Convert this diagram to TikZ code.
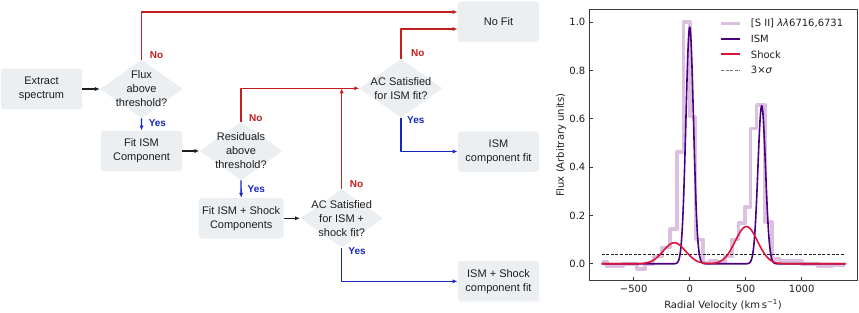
\documentclass[tikz,border=0pt]{standalone}
\usepackage{fontspec}
\setmainfont{Liberation Sans}
\newfontfamily\plotfont{DejaVu Sans}
\usetikzlibrary{shapes.geometric,arrows.meta,positioning}
\newcommand{\Px}{1pt}
\newcommand{\Wire}{1.3pt}
\newcommand{\Curve}{1.6pt}
\newcommand{\boxfont}{\fontsize{11}{14}\selectfont}
\newcommand{\flagfont}{\fontsize{10}{12}\selectfont\bfseries}
\newcommand{\plotsize}{\plotfont\fontsize{10}{12}\selectfont}
\definecolor{panel}{HTML}{ECEFF2}
\definecolor{nored}{HTML}{C41E1E}
\definecolor{yesblue}{HTML}{1428C0}
\definecolor{ink}{HTML}{1E1E1E}
\definecolor{axisgray}{HTML}{3A3A3A}
\definecolor{sii}{HTML}{DCC0E0}
\definecolor{ism}{HTML}{4B0082}
\definecolor{shock}{HTML}{DC143C}

\begin{document}
\begin{tikzpicture}[x=\Px, y=-\Px, line join=round,
    fcbox/.style={rectangle, rounded corners=3pt, fill=panel, text=ink,
      minimum width=81.5pt, minimum height=40.5pt, align=center, font=\boxfont},
    fcchoice/.style={diamond, fill=panel, inner sep=0pt,
      minimum width=83pt, minimum height=58.5pt},
    fctext/.style={align=center, text=ink, font=\boxfont},
    go/.style={ink, line width=1.3pt, -{Latex[length=5pt,width=4.2pt]}},
    nowire/.style={nored, line width=\Wire, -{Latex[length=5pt,width=4.2pt]}},
    yeswire/.style={yesblue, line width=\Wire, -{Latex[length=5pt,width=4.2pt]}},
    nolab/.style={text=nored, inner sep=1pt, font=\flagfont},
    yeslab/.style={text=yesblue, inner sep=1pt, font=\flagfont},
    plotlab/.style={text=ink, inner sep=2pt, font=\plotsize},
    ticklab/.style={text=ink, inner sep=3.5pt, font=\plotsize}]

  \useasboundingbox (0,0) rectangle (859,313);

  % ---- the steps and the questions ----------------------------------------
  \node[fcbox] (extract) at (41.5,89) {Extract\\spectrum};
  \node[fcchoice] (flux) at (141.6,89) {};
  \node[fctext] at (flux) {Flux\\above\\threshold?};
  \node[fcbox] (ismcomp) at (141.5,151) {Fit ISM\\Component};
  \node[fcchoice] (resid) at (241,151) {};
  \node[fctext] at (resid) {Residuals\\above\\threshold?};
  \node[fcbox] (shockcomp) at (241.2,218.3) {Fit ISM + Shock\\Components};
  \node[fcchoice] (acshock) at (341.7,218.3) {};
  \node[fctext] at (acshock) {AC Satisfied\\for ISM +\\shock fit?};
  \node[fcchoice] (acism) at (401,88.3) {};
  \node[fctext] at (acism) {AC Satisfied\\for ISM fit?};

  % The three outcomes, stacked on the right.
  \node[fcbox] (nofit) at (498.5,21.7) {No Fit};
  \node[fcbox] (ismfit) at (498.5,151.5) {ISM\\component fit};
  \node[fcbox] (shockfit) at (498.5,281.3) {ISM + Shock\\component fit};

  % ---- the plain flow -----------------------------------------------------
  \draw[go] (extract) -- (flux);
  \draw[go] (ismcomp) -- (resid);
  \draw[go] (shockcomp) -- (acshock);

  % ---- every No goes up, every Yes goes down ------------------------------
  \draw[nowire] (flux.north) |- ([yshift=9.7pt]nofit.west);
  \draw[nowire] (resid.north) |- (acism.west);
  \draw[nowire] (acshock.north) -- (acshock.north |- acism.west);
  \draw[nowire] (acism.north) |- ([yshift=-7.3pt]nofit.west);
  \draw[yeswire] (flux.south) -- (ismcomp.north);
  \draw[yeswire] (resid.south) -- (shockcomp.north);
  \draw[yeswire] (acism.south) |- (ismfit.west);
  \draw[yeswire] (acshock.south) |- (shockfit.west);

  \node[nolab, above right=0pt and 7pt of flux.north] (fluxno) {No};
  \node[yeslab, below right=0pt and 6pt of flux.south] (fluxyes) {Yes};
  \node[nolab, above right=-1pt and 7pt of resid.north] (residno) {No};
  \node[yeslab, below right=4pt and 5.5pt of resid.south] (residyes) {Yes};
  \node[nolab, above right=0pt and 7pt of acshock.north] (acshockno) {No};
  \node[yeslab, below right=-1pt and 5.5pt of acshock.south] (acshockyes) {Yes};
  \node[nolab, above right=1pt and 9pt of acism.north] (acismno) {No};
  \node[yeslab, below right=-2pt and 5pt of acism.south] (acismyes) {Yes};

  % ---- the spectrum panel, in hundreds of km/s and in flux ----------------
  \begin{scope}[shift={(689.7,263.8)}, x=11.2pt, y=241.5pt]
    \draw[axisgray, line width=1pt] (-8.99,-0.0712) rectangle (14.94,1.053);
    \foreach \u/\lab in {-5/−500, 0/0, 5/500, 10/1000} {
      \draw[axisgray, line width=0.8pt] (\u,-0.0712) -- ++(0,0.0145);
      \node[ticklab, anchor=north] at (\u,-0.0712) {\lab};
    }
    \foreach \f in {0.0,0.2,0.4,0.6,0.8,1.0} {
      \draw[axisgray, line width=0.8pt] (-8.99,\f) -- ++(0.3125,0);
      \node[ticklab, anchor=east] at (-8.99,\f) {\f};
    }

    % The binned doublet, as steps.
    \draw[sii, line width=3.6pt] (-7.86,0.01)
      \foreach \u/\f in {-7.41/-0.01, -5.93/0.0, -4.73/-0.022, -3.99/0.0,
        -3.25/0.03, -2.5/0.068, -1.76/0.143, -1.16/0.464, -0.57/1.0,
        0.03/0.61, 0.5/0.10, 1.21/0.005, 1.81/0.012, 2.44/0.008, 3.15/0.03,
        3.75/0.10, 4.34/0.168, 4.94/0.236, 5.43/0.561, 5.98/0.657,
        6.72/0.174, 7.35/0.02, 8.06/0.012, 10.0/0.0, 11.48/-0.012,
        12.68/-0.006} { -| (\u,\f) } -- (13.87,-0.006);

    % The noise level.
    \draw[ink, line width=0.9pt, dash pattern=on 3pt off 1.6pt]
      (-7.86,0.039) -- (13.8,0.039);

    % Narrow ISM pair, then the broad shock pair on top of it.
    \draw[ism, line width=\Curve] plot[domain=-7.86:13.93, samples=500]
      (\x,{0.98*exp(max(-9,-((\x)*(\x))/0.2312))
          +0.655*exp(max(-9,-((\x-6.43)*(\x-6.43))/0.2312))});
    \draw[shock, line width=\Curve] plot[domain=-7.86:13.93, samples=300]
      (\x,{0.087*exp(max(-9,-((\x+1.37)*(\x+1.37))/2))
          +0.154*exp(max(-9,-((\x-5.06)*(\x-5.06))/2))});
  \end{scope}

  % ---- axis titles and the legend -----------------------------------------
  \node[plotlab, rotate=90] (ytitle) at (561,145) {Flux (Arbitrary units)};
  \node[plotlab] (xtitle) at (723,305) {Radial Velocity (km\,s\textsuperscript{−1})};

  \draw[sii, line width=3.6pt] (721,23.7) -- (740,23.7);
  \draw[ism, line width=\Curve] (721,39) -- (740,39);
  \draw[shock, line width=\Curve] (721,54.3) -- (740,54.3);
  \draw[black!55, line width=0.9pt, dash pattern=on 3pt off 1.6pt] (721,70.3) -- (740,70.3);
  \node[plotlab, anchor=west] (legsii) at (748.7,23.7) {[S II] \textit{λλ}6716,6731};
  \node[plotlab, anchor=west] (legism) at (748.7,39) {ISM};
  \node[plotlab, anchor=west] (legshock) at (748.7,54.3) {Shock};
  \node[plotlab, anchor=west] (legnoise) at (748.7,70.3) {3×\textit{σ}};

\end{tikzpicture}
\end{document}
